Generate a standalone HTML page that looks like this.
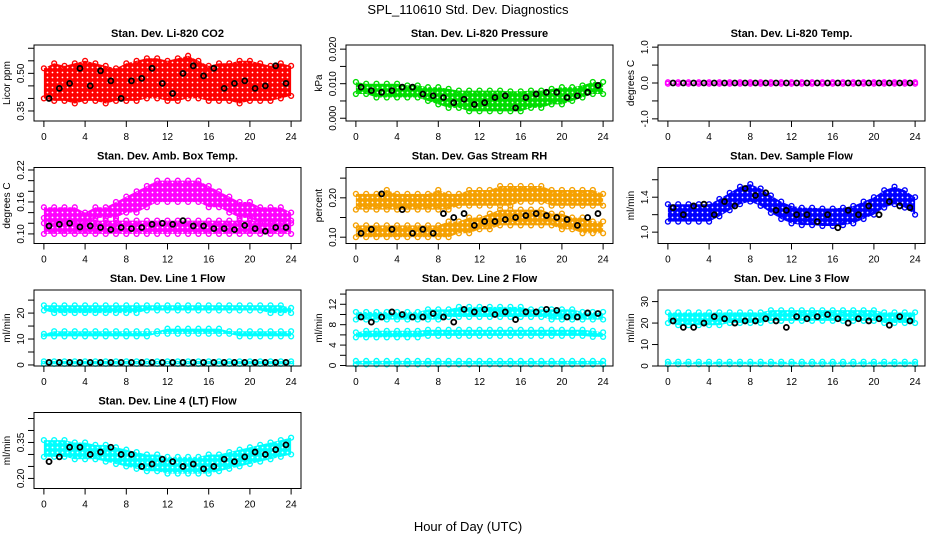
<!DOCTYPE html>
<html><head><meta charset="utf-8">
<style>
html,body{margin:0;padding:0;background:#fff;}
svg{display:block;font-family:"Liberation Sans",sans-serif;}
</style></head>
<body>
<svg id="chart" width="936" height="540" viewBox="0 0 936 540">
<defs id="defs"></defs>
<text x="468" y="14" text-anchor="middle" font-size="13">SPL_110610  Std. Dev. Diagnostics</text>
<text x="468" y="531" text-anchor="middle" font-size="13">Hour of Day (UTC)</text>
</svg>
<script>
// ---- data (hourly values 0..24 for bands; black points at half-hours 0.5..23.5) ----
const hourTicks = [0,4,8,12,16,20,24];
const co2Lo = [0.40,0.39,0.39,0.38,0.39,0.39,0.38,0.39,0.39,0.39,0.40,0.40,0.39,0.39,0.40,0.40,0.39,0.39,0.39,0.38,0.39,0.39,0.39,0.40,0.41];
const co2Hi = [0.52,0.54,0.53,0.54,0.55,0.54,0.53,0.52,0.54,0.55,0.56,0.56,0.55,0.56,0.57,0.55,0.53,0.54,0.54,0.55,0.55,0.54,0.53,0.54,0.53];
const co2Black = [0.40,0.44,0.46,0.52,0.45,0.51,0.47,0.40,0.47,0.48,0.52,0.46,0.42,0.50,0.53,0.49,0.52,0.44,0.46,0.47,0.44,0.45,0.53,0.46];
const presLo = [0.007,0.007,0.006,0.006,0.006,0.006,0.006,0.005,0.004,0.003,0.003,0.002,0.002,0.002,0.002,0.002,0.002,0.003,0.003,0.004,0.004,0.005,0.006,0.007,0.007];
const presHi = [0.0105,0.010,0.010,0.010,0.010,0.0095,0.0095,0.009,0.009,0.0085,0.008,0.008,0.008,0.008,0.008,0.0078,0.0078,0.008,0.008,0.0085,0.009,0.009,0.0095,0.0105,0.0105];
const presBlack = [0.009,0.008,0.0075,0.008,0.009,0.009,0.007,0.0065,0.006,0.0045,0.0055,0.004,0.0045,0.006,0.0065,0.003,0.006,0.007,0.0075,0.0075,0.006,0.0065,0.0075,0.0095];
const tempLo = [-0.02,-0.02,-0.02,-0.02,-0.02,-0.02,-0.02,-0.02,-0.02,-0.02,-0.02,-0.02,-0.02,-0.02,-0.02,-0.02,-0.02,-0.02,-0.02,-0.02,-0.02,-0.02,-0.02,-0.02,-0.02];
const tempHi = [0.02,0.02,0.02,0.02,0.02,0.02,0.02,0.02,0.02,0.02,0.02,0.02,0.02,0.02,0.02,0.02,0.02,0.02,0.02,0.02,0.02,0.02,0.02,0.02,0.02];
const tempBlack = [0,0,0,0,0,0,0,0,0,0,0,0,0,0,0,0,0,0,0,0,0,0,0,0];
const ambLoA = [0.10,0.10,0.10,0.10,0.10,0.10,0.10,0.10,0.10,0.10,0.10,0.10,0.10,0.10,0.10,0.10,0.10,0.10,0.10,0.10,0.10,0.10,0.10,0.10,0.10];
const ambHiA = [0.13,0.13,0.13,0.13,0.13,0.125,0.125,0.125,0.125,0.125,0.125,0.125,0.125,0.125,0.125,0.125,0.125,0.125,0.125,0.125,0.125,0.125,0.125,0.125,0.125];
const ambLoB = [0.12,0.12,0.12,0.12,0.12,0.13,0.13,0.13,0.14,0.14,0.15,0.16,0.16,0.16,0.16,0.16,0.15,0.15,0.14,0.13,0.13,0.12,0.12,0.12,0.12];
const ambHiB = [0.15,0.15,0.15,0.15,0.14,0.15,0.15,0.16,0.17,0.18,0.19,0.20,0.20,0.20,0.20,0.20,0.19,0.18,0.17,0.16,0.16,0.15,0.15,0.15,0.14];
const ambBlack = [0.115,0.118,0.12,0.113,0.115,0.112,0.108,0.112,0.11,0.112,0.118,0.12,0.118,0.125,0.115,0.115,0.11,0.11,0.108,0.116,0.11,0.105,0.112,0.112];
const rhLoA = [0.10,0.10,0.10,0.10,0.10,0.10,0.10,0.10,0.10,0.10,0.11,0.11,0.12,0.12,0.13,0.13,0.13,0.13,0.13,0.13,0.12,0.12,0.11,0.11,0.11];
const rhHiA = [0.13,0.13,0.13,0.13,0.13,0.13,0.13,0.13,0.13,0.14,0.14,0.15,0.15,0.16,0.17,0.17,0.17,0.17,0.17,0.16,0.16,0.15,0.15,0.14,0.14];
const rhLoB = [0.17,0.17,0.17,0.17,0.17,0.17,0.17,0.17,0.17,0.17,0.18,0.18,0.18,0.18,0.18,0.18,0.19,0.19,0.19,0.18,0.18,0.18,0.18,0.18,0.18];
const rhHiB = [0.21,0.21,0.21,0.22,0.21,0.21,0.21,0.21,0.22,0.21,0.21,0.22,0.22,0.22,0.23,0.23,0.23,0.23,0.23,0.22,0.22,0.22,0.22,0.22,0.21];
const rhBlack = [0.11,0.12,0.21,0.12,0.17,0.11,0.12,0.11,0.16,0.15,0.16,0.13,0.14,0.14,0.145,0.15,0.155,0.16,0.155,0.15,0.145,0.13,0.15,0.16];
const flowLo = [1.12,1.12,1.12,1.12,1.12,1.18,1.25,1.32,1.35,1.30,1.22,1.15,1.10,1.08,1.08,1.07,1.07,1.08,1.10,1.15,1.20,1.28,1.32,1.28,1.20];
const flowHi = [1.32,1.32,1.32,1.32,1.32,1.38,1.45,1.52,1.55,1.50,1.42,1.35,1.30,1.28,1.28,1.27,1.27,1.28,1.30,1.35,1.40,1.48,1.52,1.48,1.40];
const flowBlack = [1.28,1.20,1.30,1.32,1.20,1.35,1.30,1.50,1.42,1.45,1.25,1.25,1.20,1.20,1.12,1.20,1.05,1.25,1.20,1.30,1.20,1.35,1.30,1.28];
const l1LoA = [21,20,20,20,20,20,20,20,20,20,21,21,21,21,21,21,21,21,21,21,21,21,20,20,20];
const l1HiA = [23,23,23,23,23,23,23,23,23,23,23,23,23,23,23,23,23,23,23,23,23,23,23,23,22];
const l1LoB = [11,11,11,11,11,11,11,11,11,11,11,12,12,12,12,12,12,12,12,11,11,11,11,11,11];
const l1HiB = [12,13,13,13,13,13,13,13,13,13,13,13,14,14,14,14,14,14,13,13,13,13,13,13,13];
const l1LoC = [0.4,0.4,0.4,0.4,0.4,0.4,0.4,0.4,0.4,0.4,0.4,0.4,0.4,0.4,0.4,0.4,0.4,0.4,0.4,0.4,0.4,0.4,0.4,0.4,0.4];
const l1HiC = [1.4,1.4,1.4,1.4,1.4,1.4,1.4,1.4,1.4,1.4,1.4,1.4,1.4,1.4,1.4,1.4,1.4,1.4,1.4,1.4,1.4,1.4,1.4,1.4,1.4];
const l1Black = [1,1,1,1,1,1,1,1,1,1,1,1,1,1,1,1,1,1,1,1,1,1,1,1];
const l2LoA = [9,9,9,9,9,9,9,9,9,9.5,9.5,9.5,9.5,9.5,9.5,9.5,9.5,9.5,9.5,9,9,9,9,9,9];
const l2HiA = [10.5,10.5,10.5,10.5,10.5,10.5,10.5,11,11,11,11.5,11.5,11.5,11.5,11.5,11.5,11.5,11,11,11,11,11,10.5,10.5,10.5];
const l2LoB = [5.5,5.5,5.5,5.5,5.5,5.5,5.5,5.8,5.8,5.8,5.8,5.8,5.8,5.8,5.8,5.8,5.8,5.8,5.8,5.8,5.8,5.8,5.8,5.6,5.6];
const l2HiB = [6.5,6.8,6.8,6.8,6.8,6.8,6.8,7,7,7,7,7,7,7,7,7,7,7,7,7,7,7,7,6.8,6.5];
const l2LoC = [0.2,0.2,0.2,0.2,0.2,0.2,0.2,0.2,0.2,0.2,0.2,0.2,0.2,0.2,0.2,0.2,0.2,0.2,0.2,0.2,0.2,0.2,0.2,0.2,0.2];
const l2HiC = [0.9,0.9,0.9,0.9,0.9,0.9,0.9,0.9,0.9,0.9,0.9,0.9,0.9,0.9,0.9,0.9,0.9,0.9,0.9,0.9,0.9,0.9,0.9,0.9,0.9];
const l2Black = [9.5,8.5,9.5,10.5,10,9.5,9.5,10.2,9.5,8.5,11,10.5,11,10,10.5,9,10.5,10.5,11,10.8,9.5,9.5,10.3,10.2];
const l3LoA = [20,19,19,19,19,19,20,20,20,20,21,21,21,21,21,21,21,21,21,21,21,20,20,20,20];
const l3HiA = [25,25,25,25,25,25,25,25,25,25,26,26,26,26,26,26,26,26,26,26,26,25,25,25,25];
const l3LoC = [0.8,0.8,0.8,0.8,0.8,0.8,0.8,0.8,0.8,0.8,0.8,0.8,0.8,0.8,0.8,0.8,0.8,0.8,0.8,0.8,0.8,0.8,0.8,0.8,0.8];
const l3HiC = [2,2,2,2,2,2,2,2,2,2,2,2,2,2,2,2,2,2,2,2,2,2,2,2,2];
const l3Black = [21,18,18,20,23,22,20,21,21,22,21,18,23,22,23,24,22,20,22,21,22,19,23,21];
const l4Lo = [0.29,0.29,0.29,0.28,0.28,0.28,0.27,0.26,0.25,0.24,0.23,0.23,0.22,0.22,0.22,0.22,0.22,0.23,0.24,0.25,0.26,0.27,0.28,0.29,0.30];
const l4Hi = [0.36,0.36,0.36,0.35,0.35,0.34,0.34,0.33,0.32,0.31,0.30,0.30,0.29,0.29,0.29,0.29,0.30,0.30,0.31,0.32,0.33,0.34,0.35,0.36,0.37];
const l4Black = [0.27,0.29,0.33,0.33,0.30,0.31,0.33,0.30,0.30,0.25,0.26,0.28,0.27,0.25,0.26,0.24,0.25,0.28,0.27,0.29,0.31,0.30,0.32,0.34];

const panels = [
 {name:'co2',title:'Stan. Dev. Li-820 CO2',ylab:'Licor ppm',col:0,row:0,ylim:[0.31,0.613],ticks:[0.35,0.40,0.45,0.50,0.55,0.60],labs:{'0.35':'0.35','0.5':'0.50'},color:'#ff0000',bands:[[co2Lo,co2Hi]],black:co2Black},
 {name:'pressure',title:'Stan. Dev. Li-820 Pressure',ylab:'kPa',col:1,row:0,ylim:[-0.0008,0.0212],ticks:[0,0.005,0.01,0.015,0.02],labs:{'0':'0.000','0.01':'0.010','0.02':'0.020'},color:'#00dd00',bands:[[presLo,presHi]],black:presBlack},
 {name:'li820-temp',title:'Stan. Dev. Li-820 Temp.',ylab:'degrees C',col:2,row:0,ylim:[-1.06,1.06],ticks:[-1,-0.5,0,0.5,1],labs:{'-1':'-1.0','0':'0.0','1':'1.0'},color:'#ff00ff',bands:[[tempLo,tempHi]],black:tempBlack},
 {name:'amb-box-temp',title:'Stan. Dev. Amb. Box Temp.',ylab:'degrees C',col:0,row:1,ylim:[0.082,0.2247],ticks:[0.10,0.12,0.14,0.16,0.18,0.20,0.22],labs:{'0.1':'0.10','0.16':'0.16','0.22':'0.22'},color:'#ff00ff',bands:[[ambLoA,ambHiA],[ambLoB,ambHiB]],black:ambBlack},
 {name:'gas-stream-rh',title:'Stan. Dev. Gas Stream RH',ylab:'percent',col:1,row:1,ylim:[0.084,0.277],ticks:[0.10,0.15,0.20,0.25],labs:{'0.1':'0.10','0.2':'0.20'},color:'#f5a000',bands:[[rhLoA,rhHiA],[rhLoB,rhHiB]],black:rhBlack},
 {name:'sample-flow',title:'Stan. Dev. Sample Flow',ylab:'ml/min',col:2,row:1,ylim:[0.87,1.74],ticks:[1.0,1.2,1.4,1.6],labs:{'1':'1.0','1.4':'1.4'},color:'#0000ff',bands:[[flowLo,flowHi]],black:flowBlack},
 {name:'line1-flow',title:'Stan. Dev. Line 1 Flow',ylab:'ml/min',col:0,row:2,ylim:[-0.4,28.9],ticks:[0,5,10,15,20,25],labs:{'0':'0','10':'10','20':'20'},color:'#00ffff',bands:[[l1LoA,l1HiA],[l1LoB,l1HiB],[l1LoC,l1HiC]],black:l1Black},
 {name:'line2-flow',title:'Stan. Dev. Line 2 Flow',ylab:'ml/min',col:1,row:2,ylim:[-0.1,14.8],ticks:[0,2,4,6,8,10,12,14],labs:{'0':'0','4':'4','8':'8','12':'12'},color:'#00ffff',bands:[[l2LoA,l2HiA],[l2LoB,l2HiB],[l2LoC,l2HiC]],black:l2Black},
 {name:'line3-flow',title:'Stan. Dev. Line 3 Flow',ylab:'ml/min',col:2,row:2,ylim:[0,35.4],ticks:[0,10,20,30],labs:{'0':'0','10':'10','20':'20','30':'30'},color:'#00ffff',bands:[[l3LoA,l3HiA],[l3LoC,l3HiC]],black:l3Black},
 {name:'line4-flow',title:'Stan. Dev. Line 4 (LT) Flow',ylab:'ml/min',col:0,row:3,ylim:[0.158,0.475],ticks:[0.20,0.25,0.30,0.35,0.40,0.45],labs:{'0.2':'0.20','0.35':'0.35'},color:'#00ffff',bands:[[l4Lo,l4Hi]],black:l4Black}
];

const NS='http://www.w3.org/2000/svg';
const svg=document.getElementById('chart');
const defs=document.getElementById('defs');
const colX=[34,346,658], rowY=[45,167.5,290,412.5], W=267, H=76;
function mk(tag,attrs,parent){const e=document.createElementNS(NS,tag);for(const k in attrs)e.setAttribute(k,attrs[k]);parent.appendChild(e);return e;}

panels.forEach((p,pi)=>{
  const L=colX[p.col], T=rowY[p.row];
  // speckle pattern mimicking overlapping open circles
  const pat=mk('pattern',{id:'pat'+pi,width:5,height:5,patternUnits:'userSpaceOnUse'},defs);
  mk('rect',{x:0,y:0,width:5,height:5,fill:p.color},pat);
  mk('circle',{cx:2.5,cy:2.5,r:0.9,fill:'#fff'},pat);
  const g=mk('g',{},svg);
  
  
  const xs=t=>L+(t+0.96)/25.92*W;
  const ys=v=>T+H-(v-p.ylim[0])/(p.ylim[1]-p.ylim[0])*H;
  p.bands.forEach((b,bi)=>{
    const lo=b[0], hi=b[1];
    let pts=[];
    hi.forEach((v,i)=>pts.push(xs(i)+','+ys(v)));
    for(let i=lo.length-1;i>=0;i--)pts.push(xs(i)+','+ys(lo[i]));
    const poly=mk('polygon',{points:pts.join(' '),fill:'url(#pat'+pi+')',stroke:'none'},g);
    
    
    [lo,hi].forEach(arr=>arr.forEach((v,i)=>{
      const c=mk('circle',{cx:xs(i),cy:ys(v),r:2.4,fill:'none',stroke:p.color,'stroke-width':1.4},g);
      
      
    }));
  });
  p.black.forEach((v,i)=>{
    const c=mk('circle',{cx:xs(i+0.5),cy:ys(v),r:2.5,fill:'none',stroke:'#000','stroke-width':1.8},g);
    
    
  });
  const box=mk('rect',{x:L,y:T,width:W,height:H,fill:'none',stroke:'#000','stroke-width':1},g);
  
  
  hourTicks.forEach(t=>{
    mk('line',{x1:xs(t),x2:xs(t),y1:T+H,y2:T+H+6,stroke:'#000'},g);
    const tx=mk('text',{x:xs(t),y:T+H+19,'text-anchor':'middle','font-size':10},g);
    tx.textContent=t;
    
    
  });
  p.ticks.forEach(v=>{
    const y=ys(v);
    mk('line',{x1:L-6,x2:L,y1:y,y2:y,stroke:'#000'},g);
    const key=String(+v.toFixed(4));
    if(p.labs[key]!==undefined){
      const tx=mk('text',{x:L-10,y:y,'text-anchor':'middle','font-size':10,transform:'rotate(-90 '+(L-10)+' '+y+')'},g);
      tx.textContent=p.labs[key];
      
      
    }
  });
  const yl=mk('text',{x:L-24,y:T+H/2,'text-anchor':'middle','font-size':10,transform:'rotate(-90 '+(L-24)+' '+(T+H/2)+')'},g);
  yl.textContent=p.ylab;
  
  
  const tt=mk('text',{x:L+W/2,y:T-8,'text-anchor':'middle','font-size':11,'font-weight':'bold'},g);
  tt.textContent=p.title;
  
  
});
</script>
</body></html>
